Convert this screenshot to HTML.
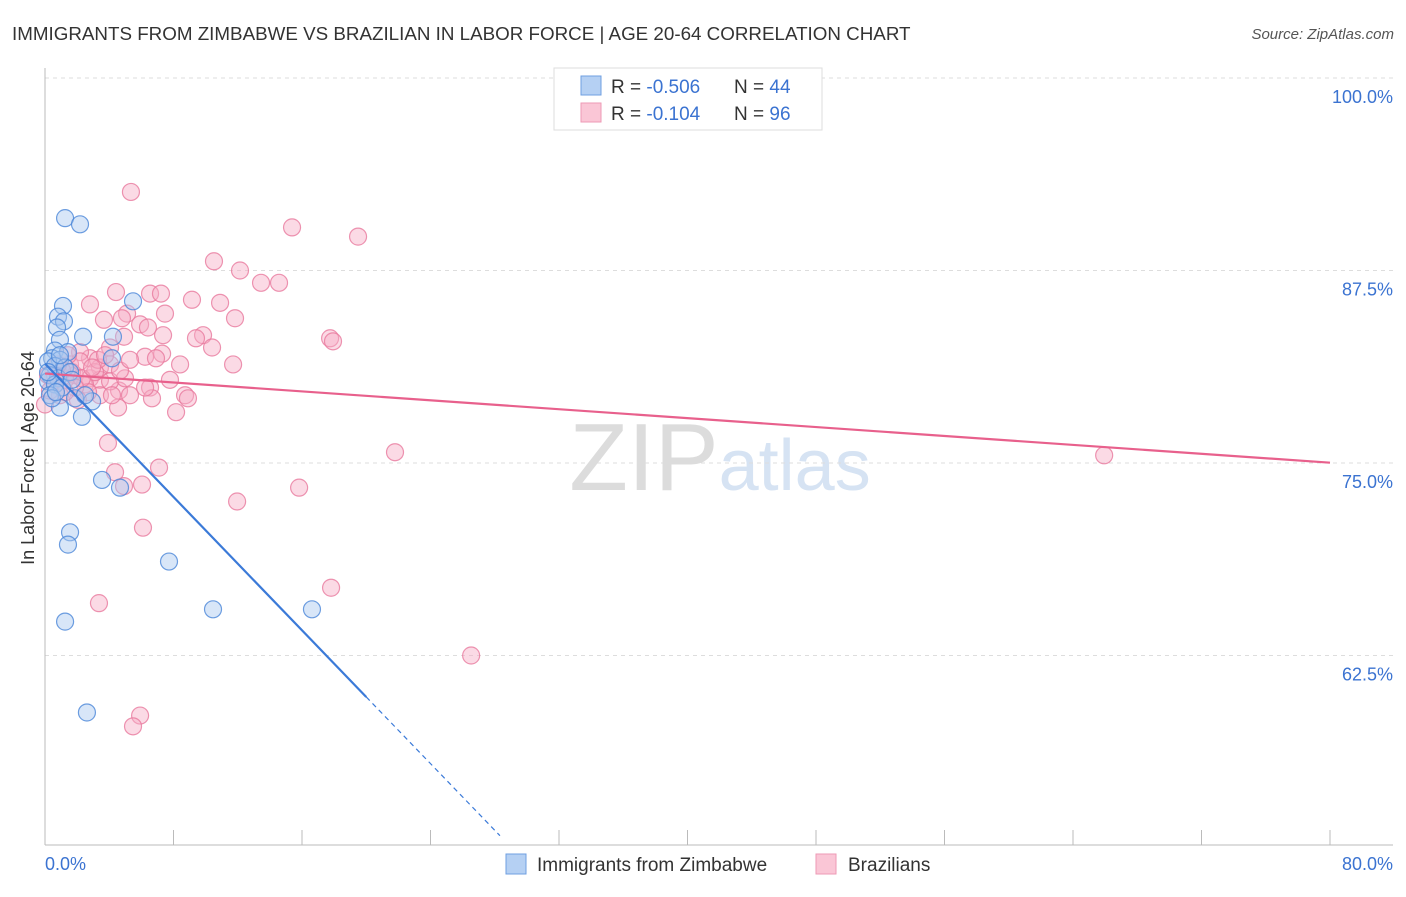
<!DOCTYPE html>
<html><head><meta charset="utf-8"><style>
body{margin:0;background:#fff;font-family:"Liberation Sans",sans-serif;}
svg text{font-family:"Liberation Sans",sans-serif;}
</style></head><body>
<svg id="c" width="1406" height="892" xmlns="http://www.w3.org/2000/svg">
<text x="12" y="40" font-size="18.8" fill="#333">IMMIGRANTS FROM ZIMBABWE VS BRAZILIAN IN LABOR FORCE | AGE 20-64 CORRELATION CHART</text>
<text x="1394" y="39" font-size="15" fill="#555" text-anchor="end" font-style="italic">Source: ZipAtlas.com</text>
<text x="720" y="490" font-size="96" fill="#e6e6e6" text-anchor="middle" font-family="Liberation Serif"><tspan fill="#dcdcdc">ZIP</tspan><tspan fill="#d6e3f3" font-family="Liberation Sans" font-size="72">atlas</tspan></text>
<g id="grid"></g>
<g id="pts"></g>
<g id="trend"></g>
<text transform="translate(34,458) rotate(-90)" font-size="18" fill="#333" text-anchor="middle">In Labor Force | Age 20-64</text>
<text x="45" y="870" font-size="18" fill="#3b73d1">0.0%</text>
<text x="1393" y="870" font-size="18" fill="#3b73d1" text-anchor="end">80.0%</text>
<g>
<rect x="554" y="68" width="268" height="62" fill="#fff" stroke="#ddd"/>
<rect x="581" y="76" width="20" height="19" fill="#b5d0f3" stroke="#6f9fe0"/>
<rect x="581" y="103" width="20" height="19" fill="#fac6d6" stroke="#ee9ab5"/>
<text x="611" y="93" font-size="19" fill="#333">R = <tspan fill="#3b73d1">-0.506</tspan><tspan x="734">N = </tspan><tspan fill="#3b73d1">44</tspan></text>
<text x="611" y="120" font-size="19" fill="#333">R = <tspan fill="#3b73d1"> -0.104</tspan><tspan x="734">N = </tspan><tspan fill="#3b73d1"> 96</tspan></text>
</g>
<g>
<rect x="506" y="854" width="20" height="20" fill="#b5d0f3" stroke="#6f9fe0"/>
<text x="537" y="871" font-size="19" fill="#333">Immigrants from Zimbabwe</text>
<rect x="816" y="854" width="20" height="20" fill="#fac6d6" stroke="#ee9ab5"/>
<text x="848" y="871" font-size="19" fill="#333">Brazilians</text>
</g>
</svg>
<script>
const yTicks=[100,87.5,75,62.5];
const yTickLabels=["100.0%","87.5%","75.0%","62.5%"];
const xTicks=[0,8,16,24,32,40,48,56,64,72,80];
const blueX=[1.25,2.18,1.12,5.48,0.81,1.18,0.75,2.37,4.23,0.93,0.62,1.43,0.44,0.93,4.17,0.19,0.62,1.25,0.31,0.81,1.56,0.19,0.62,1.06,0.31,1.87,2.93,0.93,2.30,3.55,4.67,1.56,1.43,7.72,1.25,10.46,16.62,2.61,0.44,0.19,0.68,1.68,2.49,0.93];
const blueY=[90.9,90.5,85.2,85.5,84.5,84.2,83.8,83.2,83.2,83.0,82.3,82.2,81.8,81.7,81.8,81.6,81.3,81.2,80.7,80.5,80.9,80.3,80.1,79.9,79.4,79.2,79.0,78.6,78.0,73.9,73.4,70.5,69.7,68.6,64.7,65.5,65.5,58.8,79.2,80.9,79.6,80.4,79.4,82.0];
const pinkX=[5.35,15.38,19.49,10.52,12.14,13.45,14.57,4.42,6.54,7.22,2.80,9.15,10.90,5.11,7.47,11.83,3.67,5.92,6.41,4.79,9.84,7.35,9.40,4.92,17.75,17.93,10.40,4.05,7.29,6.23,6.91,2.80,2.18,11.71,3.42,1.56,4.05,1.87,2.80,3.42,0.93,2.49,6.54,4.61,5.29,6.66,8.72,8.90,0.93,3.42,4.55,8.16,0,3.92,21.79,65.94,7.10,4.36,6.04,4.92,15.82,11.96,6.10,3.36,17.81,26.53,5.92,5.48,1.25,1.68,3.11,0.62,2.18,0.31,1.43,4.05,2.68,2.05,1.06,3.30,3.74,4.98,2.30,6.23,7.78,0.19,0.81,2.93,1.87,4.17,1.25,4.67,0.62,5.29,8.41];
const pinkY=[92.6,90.3,89.7,88.1,87.5,86.7,86.7,86.1,86.0,86.0,85.3,85.6,85.4,84.7,84.7,84.4,84.3,84.0,83.8,84.4,83.3,83.3,83.1,83.2,83.1,82.9,82.5,82.5,82.1,81.9,81.8,81.8,82.2,81.4,81.2,81.4,81.4,80.7,80.5,80.4,80.7,80.1,79.9,79.7,79.4,79.2,79.4,79.2,79.4,79.4,78.6,78.3,78.8,76.3,75.7,75.5,74.7,74.4,73.6,73.5,73.4,72.5,70.8,65.9,66.9,62.5,58.6,57.9,80.4,80.9,80.9,80.1,81.6,79.7,82.0,80.3,79.6,79.1,81.0,81.7,82.0,80.5,80.5,79.9,80.4,80.7,81.4,81.2,79.9,79.4,79.6,81.0,80.7,81.7,81.4];
const X0=45,X1=1330,Y0=78;
function sx(v){return X0+v/80*(X1-X0);}
function sy(v){return Y0+(100-v)/12.5*192.5;}
const NS="http://www.w3.org/2000/svg";
function mk(t,a,p){const e=document.createElementNS(NS,t);for(const k in a)e.setAttribute(k,a[k]);p.appendChild(e);return e;}
const grid=document.getElementById('grid');
yTicks.forEach((t,i)=>{
 const l=mk('line',{x1:X0,x2:1393,y1:sy(t),y2:sy(t),stroke:'#ddd','stroke-dasharray':'4,4'},grid);
 
 
 const tx=mk('text',{x:1393,y:sy(t)+25,'font-size':18,fill:'#3b73d1','text-anchor':'end'},grid);
 tx.textContent=yTickLabels[i];
 
 
});
const ax=mk('line',{x1:X0,x2:X0,y1:68,y2:845,stroke:'#bbb'},grid);


const bx=mk('line',{x1:X0,x2:1393,y1:845,y2:845,stroke:'#bbb'},grid);


xTicks.forEach(t=>{
 const l=mk('line',{x1:sx(t),x2:sx(t),y1:830,y2:845,stroke:'#bbb'},grid);
 
 
});
const pts=document.getElementById('pts');
function plot(xs,ys,fill,stroke,name){
 xs.forEach((x,i)=>{
  const c=mk('circle',{cx:sx(x),cy:sy(ys[i]),r:8.5,fill:fill,'fill-opacity':0.45,stroke:stroke,'stroke-width':1.2,'stroke-opacity':0.8},pts);
  
  
 });
}
plot(pinkX,pinkY,'#f7aec5','#e8799e','brazilian-point');
plot(blueX,blueY,'#a9c8f0','#4a86d8','zimbabwe-point');
function reg(xs,ys){const n=xs.length;let mx=0,my=0;for(let i=0;i<n;i++){mx+=xs[i];my+=ys[i];}mx/=n;my/=n;let sxy=0,sxx=0;for(let i=0;i<n;i++){sxy+=(xs[i]-mx)*(ys[i]-my);sxx+=(xs[i]-mx)**2;}const b=sxy/sxx;return [my-b*mx,b];}
const tr=document.getElementById('trend');
const [pa,pb]=reg(pinkX,pinkY);
const pl=mk('line',{x1:sx(0),y1:sy(pa),x2:sx(80),y2:sy(pa+pb*80),stroke:'#e8608c','stroke-width':2.2},tr);


const [ba,bb]=reg(blueX,blueY);
const xe=20, xb=Math.min(80,(50.8-ba)/bb);
const bl=mk('line',{x1:sx(0),y1:sy(ba),x2:sx(xe),y2:sy(ba+bb*xe),stroke:'#3b7ad8','stroke-width':2.2},tr);


const bd=mk('line',{x1:sx(xe),y1:sy(ba+bb*xe),x2:sx(xb),y2:sy(ba+bb*xb),stroke:'#3b7ad8','stroke-width':1.2,'stroke-dasharray':'5,4'},tr);


</script>
</body></html>
